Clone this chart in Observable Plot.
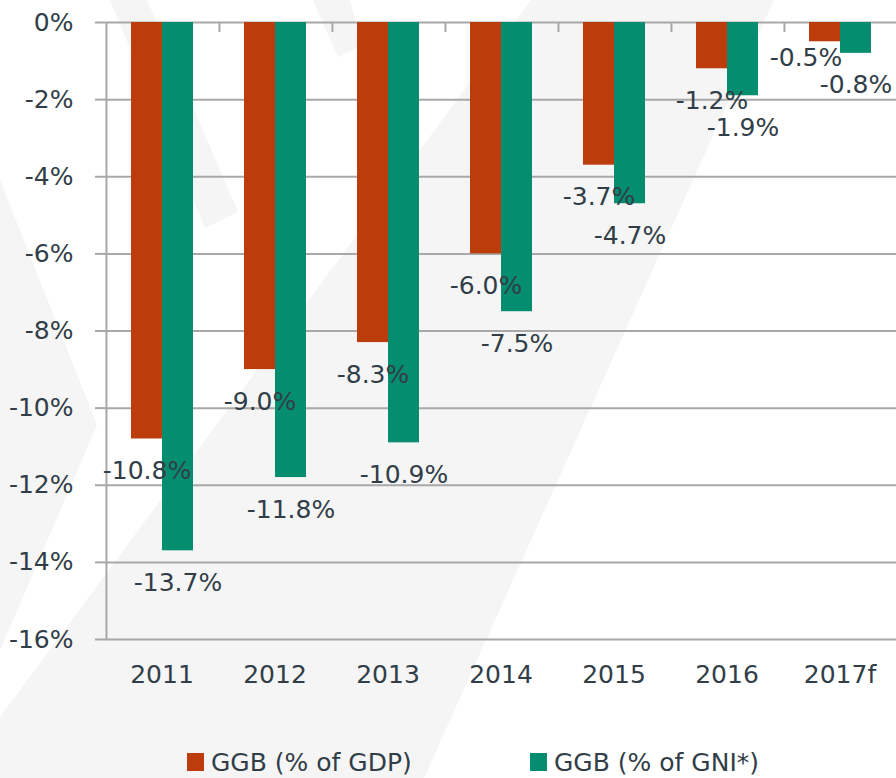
<!DOCTYPE html>
<html>
<head>
<meta charset="utf-8">
<script src="https://cdn.jsdelivr.net/npm/d3@7"></script>
<script src="https://cdn.jsdelivr.net/npm/@observablehq/plot@0.6"></script>
<style>
  html, body { margin: 0; padding: 0; background: #ffffff; }
  #wrap { position: relative; width: 896px; height: 778px; overflow: hidden; font-family: "DejaVu Sans", sans-serif; }
  #bg { position: absolute; left: 0; top: 0; z-index: 0; }
  #chart { position: absolute; left: 0; top: 0; z-index: 1; }
  #legend { position: absolute; left: 0; top: 740px; width: 896px; height: 44px; z-index: 1;
            display: flex; align-items: center; color: #313E48; font-size: 25px; }
  .item { display: flex; align-items: center; }
  .sw { width: 17px; height: 18px; margin-right: 7px; }
</style>
</head>
<body>
<div id="wrap">
  <svg id="bg" width="896" height="778">
    <g fill="#f5f5f5">
      <polygon points="531,0 774,0 424,778 0,778 0,717"></polygon>
      <polygon points="110,0 147,0 238,212 205,228"></polygon>
      <polygon points="313,0 350,0 362,45 338,57"></polygon>
      <polygon points="0,180 97,425 0,650"></polygon>
    </g>
  </svg>
  <div id="chart"></div>
  <div id="legend"></div>
</div>
<script>
const years = ["2011", "2012", "2013", "2014", "2015", "2016", "2017f"];
const gdpValues = [-10.8, -9.0, -8.3, -6.0, -3.7, -1.2, -0.5];
const gniValues = [-13.7, -11.8, -10.9, -7.5, -4.7, -1.9, -0.8];
const seriesNames = ["GGB (% of GDP)", "GGB (% of GNI*)"];
const seriesColors = ["#BC3C0C", "#048D6E"];
const yTicks = [0, -2, -4, -6, -8, -10, -12, -14, -16];

const rows = [];
years.forEach((yr, i) => {
  rows.push({year: yr, series: seriesNames[0], value: gdpValues[i]});
  rows.push({year: yr, series: seriesNames[1], value: gniValues[i]});
});
const lastYear = years[years.length - 1];
const isShifted = d => d.year === lastYear && d.series === seriesNames[0];

const W = 896, H = 740, ML = 105, MR = 0, MT = 22, MB = 101;
const outerPad = 0.77;
const facetW = (W - ML - MR) / years.length;
const step = facetW / (2 + 2 * outerPad);
const edgeDx = -(step * outerPad) - step / 2;
const textColor = "#313E48";
const gridColor = "#A8A8A8";
const fmt = d => d.value.toFixed(1) + "%";

const chart = Plot.plot({
  width: W, height: H,
  marginLeft: ML, marginRight: MR, marginTop: MT, marginBottom: MB,
  style: {background: "transparent", fontFamily: "DejaVu Sans, sans-serif", color: textColor},
  fx: {domain: years, padding: 0, axis: null, label: null},
  x: {domain: seriesNames, paddingInner: 0, paddingOuter: outerPad, axis: null},
  y: {domain: [-16, 0], axis: null},
  color: {domain: seriesNames, range: seriesColors},
  marks: [
    Plot.gridY(yTicks, {stroke: gridColor, strokeOpacity: 1, strokeWidth: 2}),
    Plot.axisY(yTicks, {
      anchor: "left", tickSize: 10, tickPadding: 22, stroke: gridColor, strokeWidth: 2,
      tickFormat: d => d + "%", fontSize: 25, fill: textColor, label: null
    }),
    Plot.ruleX([years[0]], {fx: d => d, x: () => seriesNames[0], dx: edgeDx, y1: 0, y2: -16,
      stroke: gridColor, strokeWidth: 2}),
    Plot.ruleX(years.slice(1), {fx: d => d, x: () => seriesNames[0], dx: edgeDx, y1: 0, y2: 0,
      insetBottom: -10, stroke: gridColor, strokeWidth: 2}),
    Plot.barY(rows, {fx: "year", x: "series", y: "value", fill: "series"}),
    Plot.text(rows.filter(d => !isShifted(d)), {fx: "year", x: "series", y: "value", text: fmt,
      dy: 32, fontSize: 25, fill: textColor}),
    Plot.text(rows.filter(isShifted), {fx: "year", x: "series", y: "value", text: fmt,
      dx: -19, dy: 16, fontSize: 25, fill: textColor}),
    Plot.text(years, {fx: d => d, text: d => d, frameAnchor: "bottom", dy: 43, fontSize: 25, fill: textColor})
  ]
});
document.getElementById("chart").appendChild(chart);

const legend = document.getElementById("legend");
const lefts = [187, 530];
seriesNames.forEach((name, i) => {
  const item = document.createElement("div");
  item.className = "item";
  item.style.position = "absolute";
  item.style.left = lefts[i] + "px";
  const sw = document.createElement("div");
  sw.className = "sw";
  sw.style.background = seriesColors[i];
  const label = document.createElement("span");
  label.textContent = name;
  item.appendChild(sw);
  item.appendChild(label);
  legend.appendChild(item);
});
</script>
</body>
</html>
